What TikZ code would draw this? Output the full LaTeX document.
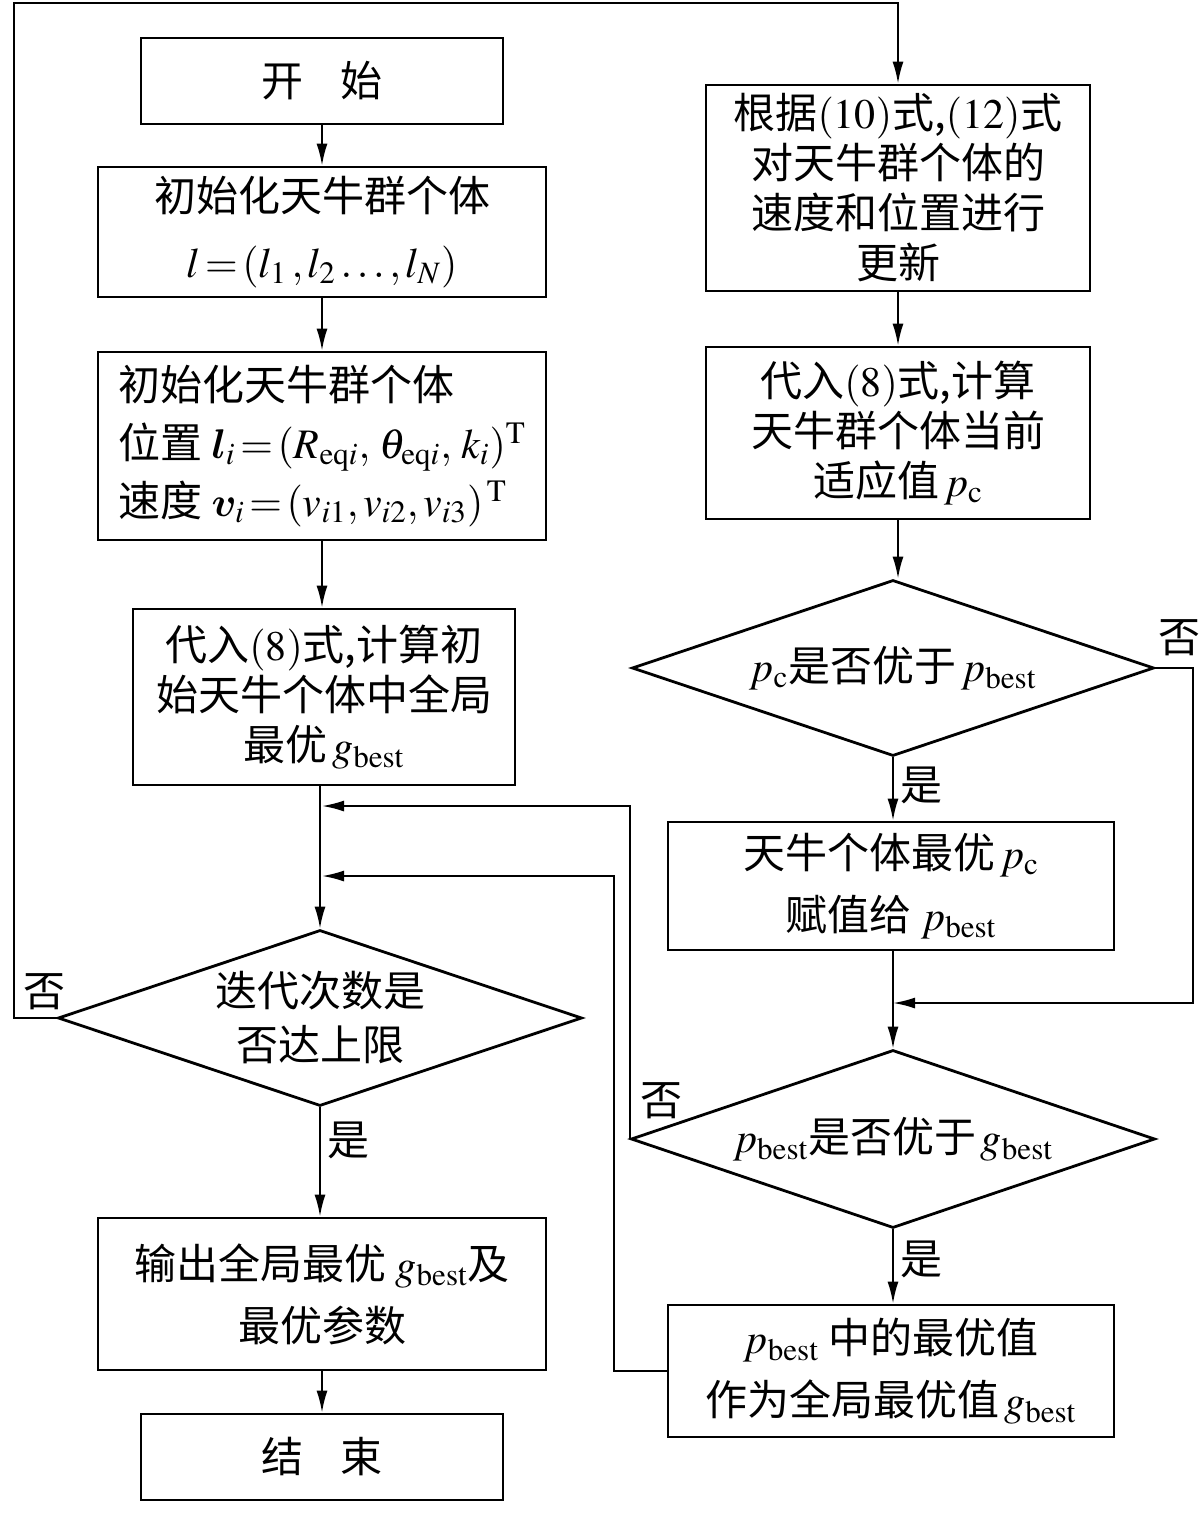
\documentclass[tikz,border=0pt]{standalone}
\usepackage{amsmath}
\usepackage{bm}
\usepackage{mathptmx}
\usepackage{fontspec}
\setmainfont{Liberation Serif}
\newfontfamily\cjk{Noto Sans CJK SC}
\usetikzlibrary{shapes.geometric, arrows.meta, positioning, calc}

\tikzset{
  procbox/.style={draw, line width=1.4pt, rectangle, align=center, inner sep=0pt,
    font=\cjk\fontsize{21}{25}\selectfont},
  decide/.style={draw, line width=1.4pt, diamond, aspect=2.9, align=center, inner sep=0pt,
    font=\cjk\fontsize{21}{25}\selectfont},
  yesno/.style={inner sep=0pt, font=\cjk\fontsize{21}{25}\selectfont},
  arr/.style={line width=1pt, -{Latex[length=11pt,width=5.5pt]}},
}

\begin{document}
\begin{tikzpicture}[x=0.5pt, y=-0.5pt]
    \useasboundingbox (0,0) rectangle (1200,1515);

    % left column
    \node[procbox, minimum width=181pt, minimum height=43pt] (start) at (322,81) {开\hspace{0.9em}始};
    \node[procbox, minimum width=224pt, minimum height=65pt] (init1) at (322,232) {初始化天牛群个体\\[8pt]$l\!=\!(l_1\,,l_2\,.\,.\,.\,,l_N)$};
    \node[procbox, minimum width=224pt, minimum height=94pt, align=left] (init2) at (322,446)
      {初始化天牛群个体\\[4pt]位置 $\bm{l}_i\!=\!(R_{\mathrm{eq}i},\,\theta_{\mathrm{eq}i},\,k_i)^{\mathrm{T}}$\\[4pt]速度 $\bm{v}_i\!=\!(v_{i1},v_{i2},v_{i3})^{\,\mathrm{T}}$};
    \node[procbox, minimum width=191pt, minimum height=88pt] (calc0) at (324,697) {代入$(8)$式,计算初\\始天牛个体中全局\\最优$\,g_{\mathrm{best}}$};
    \node[decide, minimum width=262pt, minimum height=88pt] (iter) at (320,1018) {迭代次数是\\[2pt]否达上限};
    \node[procbox, minimum width=224pt, minimum height=76pt] (output) at (322,1294) {输出全局最优 $g_{\mathrm{best}}$及\\[6pt]最优参数};
    \node[procbox, minimum width=181pt, minimum height=43pt] (end) at (322,1457) {结\hspace{0.9em}束};

    % right column
    \node[procbox, minimum width=192pt, minimum height=103pt] (update) at (898,188) {根据$(10)$式,$(12)$式\\对天牛群个体的\\速度和位置进行\\更新};
    \node[procbox, minimum width=192pt, minimum height=86pt] (calc) at (898,433) {代入$(8)$式,计算\\天牛群个体当前\\适应值$\,p_{\mathrm{c}}$};
    \node[decide, minimum width=261pt, minimum height=88pt] (dpc) at (893,668) {$p_{\mathrm{c}}$是否优于$\,p_{\mathrm{best}}$};
    \node[procbox, minimum width=223pt, minimum height=64pt] (assign) at (891,886) {天牛个体最优$\,p_{\mathrm{c}}$\\[6pt]赋值给 $p_{\mathrm{best}}$};
    \node[decide, minimum width=262pt, minimum height=89pt] (dpb) at (893,1139) {$p_{\mathrm{best}}$是否优于$\,g_{\mathrm{best}}$};
    \node[procbox, minimum width=223pt, minimum height=66pt] (best) at (891,1371) {$p_{\mathrm{best}}$ 中的最优值\\[6pt]作为全局最优值$\,g_{\mathrm{best}}$};

    % junctions
    \coordinate (j1) at (322,806);
    \coordinate (j2) at (322,876);
    \coordinate (ctop) at (14,3);
    \coordinate (jr) at (1193,1003);

    % left arrows
    \draw[arr] (start) -- (init1);
    \draw[arr] (init1) -- (init2);
    \draw[arr] (init2.south) -- (init2.south |- calc0.north);
    \draw[arr] (calc0.south -| iter.north) -- (iter.north);
    \draw[arr] (iter.south) -- node[yesno, pos=0.3, anchor=west, xshift=3pt] (yes1) {是} (iter.south |- output.north);
    \draw[arr] (output) -- (end);
    \draw[arr] (iter.west) -| (ctop) -| (update.north);
    \node[yesno] (no1) at ($(iter.west)+(-12,-26)$) {否};

    % right arrows
    \draw[arr] (update) -- (calc);
    \draw[arr] (calc.south) -- (calc.south |- dpc.north);
    \draw[arr] (dpc.south) -- node[yesno, pos=0.45, anchor=west, xshift=3pt] (yes2) {是} (dpc.south |- assign.north);
    \draw[arr] (dpc.south |- assign.south) -- (dpb.north);
    \draw[arr] (dpc.east) -| (jr) -- (jr -| dpb.north);
    \node[yesno] (no2) at ($(dpc.east)+(24,-30)$) {否};
    \draw[arr] (dpb.south) -- node[yesno, pos=0.4, anchor=west, xshift=3pt] (yes3) {是} (dpb.south |- best.north);
    \draw[arr] (dpb.west) |- (j1);
    \node[yesno] (no3) at ($(dpb.west)+(32,-38)$) {否};
    \draw[arr] (best.west) -- ++(-53,0) |- (j2);
\end{tikzpicture}
\end{document}
